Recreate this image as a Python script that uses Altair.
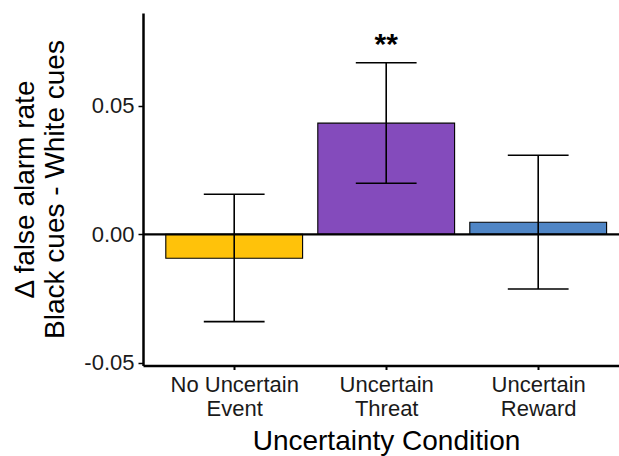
import altair as alt
import pandas as pd

categories = ["No Uncertain Event", "Uncertain Threat", "Uncertain Reward"]
label_lines = [["No Uncertain", "Event"], ["Uncertain", "Threat"], ["Uncertain", "Reward"]]
means = [-0.0093, 0.0433, 0.0047]
lower = [-0.0340, 0.0199, -0.0213]
upper = [0.0156, 0.0668, 0.0308]
colors = ["#FFC20A", "#844BBC", "#5086C6"]
stars = ["", "**", ""]
y_ticks = [-0.05, 0.0, 0.05]

df = pd.DataFrame({
    "cat": categories,
    "pos": [i + 1 for i in range(len(categories))],
    "mean": means,
    "lo": lower,
    "hi": upper,
    "star": stars,
})

FONT = "Liberation Sans"
W, H = 476, 352.5

xscale = alt.Scale(domain=[0.4, 0.4 + W / 152.0], nice=False, zero=False)
yscale = alt.Scale(domain=[-0.0511, 0.0862], nice=False, zero=False)

lbl_js = "[" + ",".join("[" + ",".join("'" + s + "'" for s in l) + "]" for l in label_lines) + "]"

x_axis = alt.Axis(values=[1, 2, 3], labelExpr=lbl_js + "[datum.value - 1]",
                  title="Uncertainty Condition", grid=False,
                  domainColor="black", domainWidth=2.5, tickColor="black",
                  tickWidth=2, tickSize=4, labelFont=FONT, labelFontSize=22,
                  labelColor="#1a1a1a", labelBaseline="top", labelLineHeight=24,
                  labelPadding=5, labelAngle=0,
                  titleFont=FONT, titleFontSize=28, titleFontWeight="normal",
                  titleColor="black", titleX=243, titleY=84, titleAlign="center",
                  titleBaseline="alphabetic")
y_axis = alt.Axis(values=y_ticks,
                  labelExpr="datum.value < 0 ? '-' + format(-datum.value, '.2f') : format(datum.value, '.2f')",
                  title=["\u0394 false alarm rate", "Black cues - White cues"],
                  grid=False, domainColor="black", domainWidth=2.5,
                  tickColor="black", tickWidth=1.5, tickSize=5,
                  labelFont=FONT, labelFontSize=22, labelColor="#1a1a1a",
                  labelPadding=4,
                  titleFont=FONT, titleFontSize=28, titleFontWeight="normal",
                  titleColor="black", titleAngle=270, titleAlign="center",
                  titleBaseline="alphabetic", titleLineHeight=29.5,
                  titleX=-109.5, titleY=176)

base = alt.Chart(df).transform_calculate(
    x0="datum.pos - 0.45", x1="datum.pos + 0.45",
    c0="datum.pos - 0.2", c1="datum.pos + 0.2",
)

bars = base.mark_rect(stroke="black", strokeWidth=1.1).encode(
    x=alt.X("x0:Q", scale=xscale, axis=x_axis),
    x2="x1:Q",
    y=alt.Y("mean:Q", scale=yscale, axis=y_axis),
    y2=alt.datum(0),
    color=alt.Color("cat:N", scale=alt.Scale(domain=categories, range=colors), legend=None),
)

zero = alt.Chart(pd.DataFrame({"z": [0.0]})).mark_rule(color="black", strokeWidth=2.2).encode(
    y=alt.Y("z:Q", scale=yscale, axis=y_axis)
)

err = base.mark_rule(color="black", strokeWidth=1.6).encode(
    x=alt.X("pos:Q", scale=xscale, axis=x_axis),
    y=alt.Y("lo:Q", scale=yscale, axis=y_axis), y2="hi:Q"
)
cap_hi = base.mark_rule(color="black", strokeWidth=1.6).encode(
    x=alt.X("c0:Q", scale=xscale, axis=x_axis), x2="c1:Q",
    y=alt.Y("hi:Q", scale=yscale, axis=y_axis)
)
cap_lo = base.mark_rule(color="black", strokeWidth=1.6).encode(
    x=alt.X("c0:Q", scale=xscale, axis=x_axis), x2="c1:Q",
    y=alt.Y("lo:Q", scale=yscale, axis=y_axis)
)
star = base.mark_text(font=FONT, fontSize=30, fontWeight="bold", color="black",
                      baseline="alphabetic", dy=-9).encode(
    x=alt.X("pos:Q", scale=xscale, axis=x_axis),
    y=alt.Y("hi:Q", scale=yscale, axis=y_axis), text="star:N"
)

chart = alt.layer(bars, zero, err, cap_hi, cap_lo, star).properties(
    width=W, height=H,
    background="white",
    autosize=alt.AutoSizeParams(type="none"),
    padding={"left": 143, "top": 13, "right": 0, "bottom": 90.5},
).configure_view(strokeWidth=0, strokeOpacity=0)

chart.save("out.html", embed_options={"renderer": "svg", "actions": False})
